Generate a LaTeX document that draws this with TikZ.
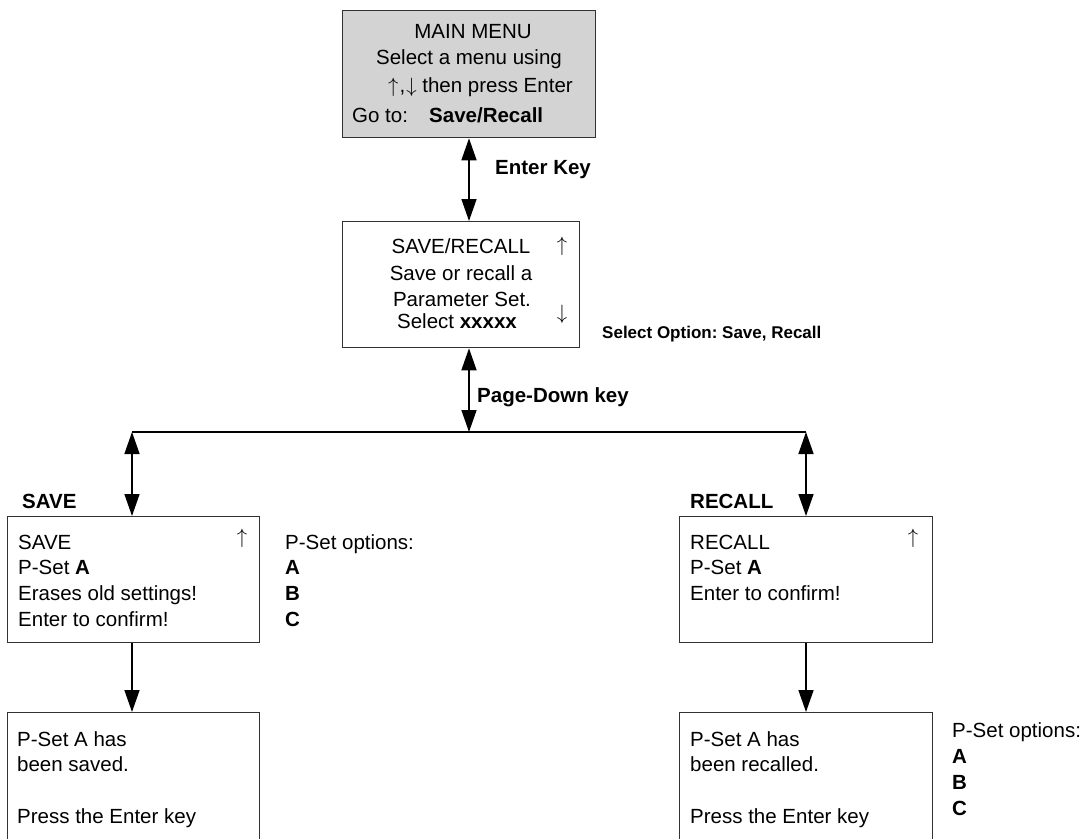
\documentclass[tikz,border=0pt]{standalone}
\usepackage{fontspec}
\setmainfont{Liberation Sans}
\usetikzlibrary{arrows.meta}
\frenchspacing

\definecolor{menugray}{RGB}{211,211,211}
\definecolor{frame}{RGB}{50,50,50}

\tikzset{
  screen/.style={draw=frame, line width=1.3pt, inner sep=0pt, anchor=north west},
  txt/.style={inner sep=0pt, anchor=base west, font=\fontsize{20.5}{25}\selectfont},
  btxt/.style={txt, font=\fontsize{20.5}{25}\selectfont\bfseries},
  ctxt/.style={txt, anchor=base},
  small/.style={inner sep=0pt, anchor=base west, font=\fontsize{17}{21}\selectfont\bfseries},
  link/.style={line width=1.5pt, black},
  both/.style={link, {Triangle[length=22pt,width=15pt]}-{Triangle[length=22pt,width=15pt]}},
  fwd/.style={link, -{Triangle[length=22pt,width=15pt]}},
}

\begin{document}
\begin{tikzpicture}[x=1pt, y=-1pt]
\useasboundingbox (0,0) rectangle (1086,838);
\clip (0,0) rectangle (1086,838);

% screens
\node[screen, fill=menugray, minimum width=253pt, minimum height=127pt] (main) at (342,10) {};
\node[screen, minimum width=237pt, minimum height=126pt] (selr) at (342,221) {};
\node[screen, minimum width=252pt, minimum height=126pt] (save) at (7,516) {};
\node[screen, minimum width=253pt, minimum height=126pt] (recall) at (679,516) {};
\node[screen, minimum width=252pt, minimum height=160pt] (saved) at (7,712) {};
\node[screen, minimum width=253pt, minimum height=160pt] (recalled) at (679,712) {};

% main menu text
\node[ctxt] (m1) at (473,38) {MAIN MENU};
\node[ctxt] (m2) at (469,64) {Select a menu using};
\node[txt] (m3) at (388,92) {$\uparrow$\kern1pt,\kern1pt$\downarrow$ then press Enter};
\node[txt] (m4) at (352,122) {Go to:};
\node[btxt] (m5) at (429,122) {Save/Recall};

% save/recall screen text
\node[ctxt] (s1) at (461,253) {SAVE/RECALL};
\node[ctxt] (s2) at (461,280) {Save or recall a};
\node[ctxt] (s3) at (462,306) {Parameter Set.};
\node[ctxt] (s4) at (457,328) {Select \textbf{xxxxx}};
\node[ctxt] (s5) at (562,251) {$\uparrow$};
\node[ctxt] (s6) at (562,319) {$\downarrow$};

% connector labels
\node[btxt] (lenter) at (495,174) {Enter Key};
\node[small] (lopt) at (602,338) {Select Option: Save, Recall};
\node[btxt] (lpage) at (477,402) {Page-Down key};
\node[btxt] (lsave) at (22,508) {SAVE};
\node[btxt] (lrecall) at (690,508) {RECALL};

% save screen text
\node[txt] (a1) at (18,549) {SAVE};
\node[txt] (a2) at (18,574) {P-Set \textbf{A}};
\node[txt] (a3) at (18,600) {Erases old settings!};
\node[txt] (a4) at (18,626) {Enter to confirm!};
\node[ctxt] (a5) at (242,543) {$\uparrow$};

% option list beside the save screen
\node[txt] (o1) at (285,549) {P-Set options:};
\node[txt] (o2) at (285,574) {\textbf{A}};
\node[txt] (o3) at (285,600) {\textbf{B}};
\node[txt] (o4) at (285,626) {\textbf{C}};

% recall screen text
\node[txt] (r1) at (690,549) {RECALL};
\node[txt] (r2) at (690,574) {P-Set \textbf{A}};
\node[txt] (r3) at (690,600) {Enter to confirm!};
\node[ctxt] (r5) at (913,543) {$\uparrow$};

% confirmation screens
\node[txt] (d1) at (17,746) {P-Set A has};
\node[txt] (d2) at (17,771) {been saved.};
\node[txt] (d3) at (17,823) {Press the Enter key};
\node[txt] (e1) at (690,746) {P-Set A has};
\node[txt] (e2) at (690,771) {been recalled.};
\node[txt] (e3) at (690,823) {Press the Enter key};

% option list beside the recalled screen
\node[txt] (q1) at (952,737) {P-Set options:};
\node[txt] (q2) at (952,763) {\textbf{A}};
\node[txt] (q3) at (952,789) {\textbf{B}};
\node[txt] (q4) at (952,815) {\textbf{C}};

% branch line
\coordinate (mid) at (469,432);
\coordinate (bl) at (132,432);
\coordinate (br) at (806,432);

\draw[both] (mid |- main.south) -- (mid |- selr.north);
\draw[both] (mid |- selr.south) -- (mid);
\draw[link] (bl) -- (br);
\draw[both] (bl) -- (bl |- save.north);
\draw[both] (br) -- (br |- recall.north);
\draw[fwd] (bl |- save.south) -- (bl |- saved.north);
\draw[fwd] (br |- recall.south) -- (br |- recalled.north);
\end{tikzpicture}
\end{document}
